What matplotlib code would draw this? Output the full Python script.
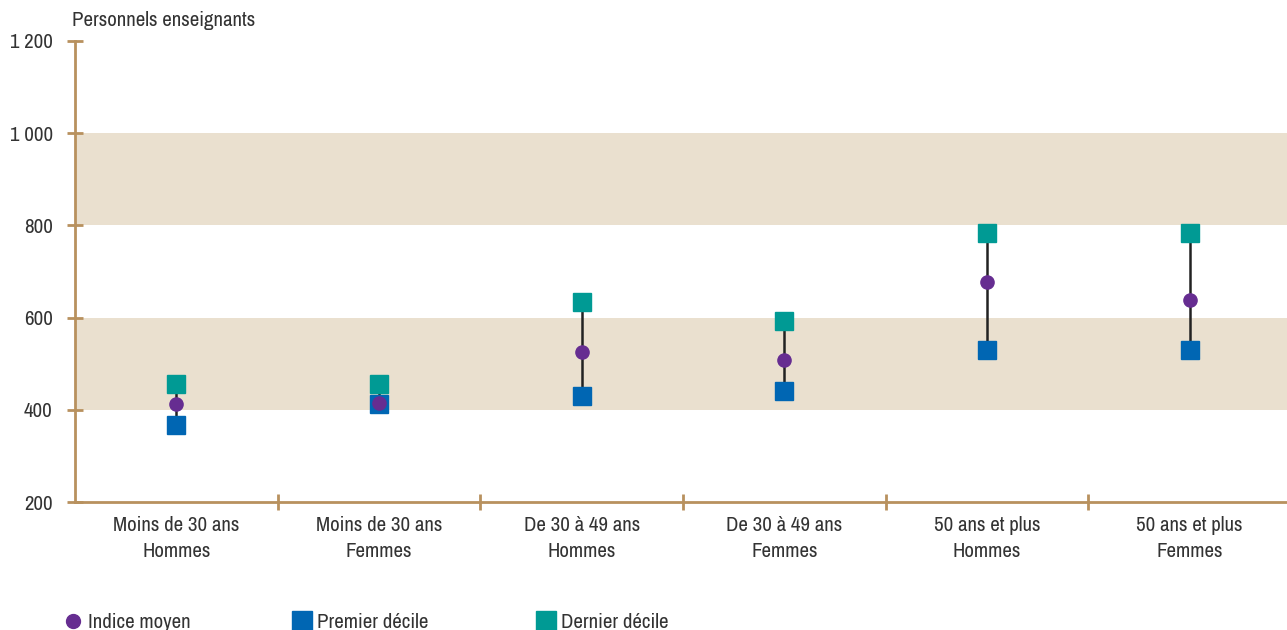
import matplotlib.pyplot as plt
from matplotlib.lines import Line2D
from matplotlib import font_manager

# police étroite si dispo
polices = font_manager.fontManager.ttflist
etroites = [f.name for f in polices if 'Condensed' in f.name or 'Narrow' in f.name]
if etroites:
    plt.rcParams['font.family'] = [etroites[0], 'DejaVu Sans']
else:
    plt.rcParams['font.family'] = ['DejaVu Sans']
    plt.rcParams['font.stretch'] = 'condensed'

categories = ['Moins de 30 ans\nHommes', 'Moins de 30 ans\nFemmes',
              'De 30 à 49 ans\nHommes', 'De 30 à 49 ans\nFemmes',
              '50 ans et plus\nHommes', '50 ans et plus\nFemmes']
indice_moyen = [413, 415, 525, 508, 677, 639]
premier_decile = [367, 412, 430, 441, 530, 530]
dernier_decile = [455, 455, 634, 593, 784, 784]
yticks = [200, 400, 600, 800, 1000, 1200]
ytick_labels = ['200', '400', '600', '800', '1 000', '1 200']
bandes = [(400, 600), (800, 1000)]
legende = ['Indice moyen', 'Premier décile', 'Dernier décile']

c_axe = '#B8915E'
c_bande = '#EAE0CF'
c_moy = '#662D91'
c_prem = '#0066B3'
c_dern = '#009A94'
c_txt = '#333333'
fs = 15

fig = plt.figure(figsize=(12.87, 6.30), dpi=100)
ax = fig.add_axes([75/1287, 1-502/630, 1-75/1287, (502-41)/630])

x = list(range(len(categories)))
for b in bandes:
    ax.axhspan(b[0], b[1], color=c_bande, zorder=0, lw=0)

ax.vlines(x, premier_decile, dernier_decile, color='#222222', lw=1.8, zorder=2)
ax.plot(x, premier_decile, 's', color=c_prem, ms=13, zorder=3, clip_on=False)
ax.plot(x, dernier_decile, 's', color=c_dern, ms=13, zorder=3, clip_on=False)
ax.plot(x, indice_moyen, 'o', color=c_moy, ms=9.5, zorder=4, clip_on=False)

ax.set_xlim(-0.5, 5.48)
ax.set_ylim(200, 1200)
ax.set_yticks(yticks)
ax.set_yticklabels(ytick_labels)
ax.set_xticks(x)
ax.set_xticklabels(categories, linespacing=1.5)
ax.set_xticks([i + 0.5 for i in x[:-1]], minor=True)

for s in ['top', 'right']:
    ax.spines[s].set_visible(False)
for s in ['left', 'bottom']:
    ax.spines[s].set_color(c_axe)
    ax.spines[s].set_linewidth(2)

ax.tick_params(axis='y', direction='inout', length=12, width=2, color=c_axe,
               labelsize=fs, labelcolor=c_txt, pad=10)
ax.tick_params(axis='x', which='major', length=0, labelsize=fs,
               labelcolor=c_txt, pad=10)
ax.tick_params(axis='x', which='minor', direction='inout', length=12,
               width=2, color=c_axe)

fig.text(72/1287, 1-20/630, 'Personnels enseignants', fontsize=fs,
         color=c_txt, va='center', ha='left')

# légende faite à la main
pos_marq = [73, 302, 546]
marq = [('o', c_moy, 10), ('s', c_prem, 14), ('s', c_dern, 14)]
for px, (m, c, ms), lab in zip(pos_marq, marq, legende):
    fig.add_artist(Line2D([px/1287], [1-621/630], transform=fig.transFigure,
                          marker=m, color=c, ms=ms, ls=''))
    fig.text((px + 15)/1287, 1-623/630, lab, fontsize=fs, color=c_txt,
             va='center', ha='left')

fig.savefig('out.png', dpi=100)
